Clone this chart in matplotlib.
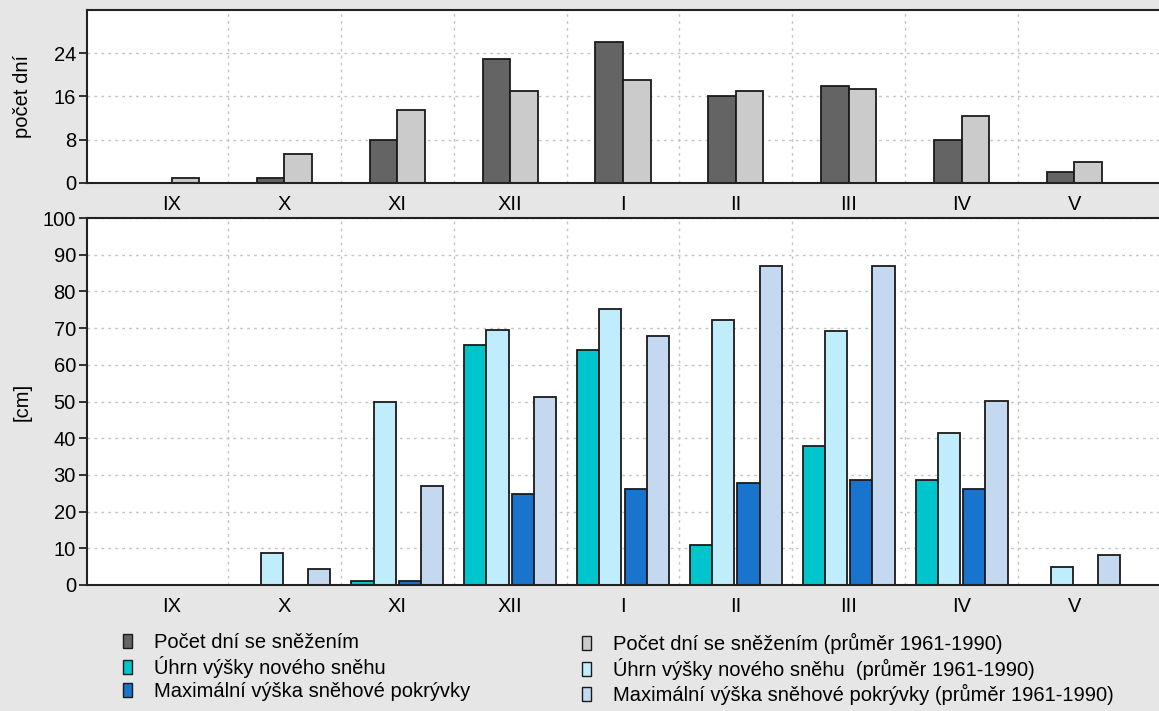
import numpy as np
import matplotlib.pyplot as plt
from matplotlib.patches import Patch

plt.rcParams['font.family'] = ['Liberation Sans', 'DejaVu Sans']

months = ['IX', 'X', 'XI', 'XII', 'I', 'II', 'III', 'IV', 'V']

# pocet dni
days_snow = [0, 1, 8, 23, 26, 16, 18, 8, 2]
days_snow_avg = [1, 5.3, 13.5, 17, 19.1, 17.1, 17.3, 12.4, 3.8]

# [cm]
new_snow = [0, 0, 1, 65.3, 64, 10.9, 37.8, 28.7, 0]
new_snow_avg = [0, 8.8, 50, 69.6, 75.3, 72.3, 69.2, 41.4, 4.8]
max_depth = [0, 0, 1, 24.8, 26.1, 27.8, 28.7, 26.1, 0]
max_depth_avg = [0, 4.4, 27, 51.3, 67.9, 87, 87, 50.1, 8.3]

c_dark = '#646464'
c_grey = '#cbcbcb'
c_teal = '#00c5cd'
c_cyan = '#bfedfc'
c_blue = '#1874cd'
c_steel = '#c4d8ef'
bg = '#e6e6e6'
fs = 14.5

x = np.arange(len(months))

fig = plt.figure(figsize=(11.59, 7.11), dpi=100, facecolor=bg)
ax1 = fig.add_axes([87/1159, 1-183/711, 1-87/1159, 173/711])
ax2 = fig.add_axes([87/1159, 1-585/711, 1-87/1159, 367/711])


def style(ax):
    ax.set_xlim(-0.75, 8.75)
    ax.set_xticks(x)
    ax.set_xticklabels(months, fontsize=fs)
    ax.tick_params(axis='x', length=0, pad=9)
    ax.tick_params(axis='y', labelsize=fs, length=6, width=1.3, pad=2, color='#222222')
    ax.set_xticks(x[:-1] + 0.5, minor=True)
    ax.tick_params(axis='x', which='minor', length=0)
    ax.grid(True, which='minor', axis='x', color='#c4c4c4', linestyle=(0, (2, 3)), lw=1)
    ax.grid(True, which='major', axis='y', color='#c4c4c4', linestyle=(0, (2, 3)), lw=1)
    ax.set_axisbelow(True)
    ax.spines['right'].set_visible(False)
    for s in ['left', 'top', 'bottom']:
        ax.spines[s].set_linewidth(1.5)
        ax.spines[s].set_color('#222222')


w1 = 0.245
ax1.bar(x - w1/2, days_snow, w1, color=c_dark, edgecolor='#1a1a1a', lw=1.3)
ax1.bar(x + w1/2, days_snow_avg, w1, color=c_grey, edgecolor='#1a1a1a', lw=1.3)
ax1.set_ylim(0, 32)
ax1.set_yticks([0, 8, 16, 24])
ax1.set_ylabel('počet dní', fontsize=fs)
style(ax1)

w = 0.197
g = 0.027
ax2.bar(x - g/2 - 1.5*w, new_snow, w, color=c_teal, edgecolor='#1a1a1a', lw=1.3)
ax2.bar(x - g/2 - 0.5*w, new_snow_avg, w, color=c_cyan, edgecolor='#1a1a1a', lw=1.3)
ax2.bar(x + g/2 + 0.5*w, max_depth, w, color=c_blue, edgecolor='#1a1a1a', lw=1.3)
ax2.bar(x + g/2 + 1.5*w, max_depth_avg, w, color=c_steel, edgecolor='#1a1a1a', lw=1.3)
ax2.set_ylim(0, 100)
ax2.set_yticks(np.arange(0, 101, 10))
ax2.set_ylabel('[cm]', fontsize=fs)
style(ax2)
ax1.yaxis.set_label_coords(-55/1072, 0.5)
ax2.yaxis.set_label_coords(-55/1072, 0.5)

left = [Patch(facecolor=c_dark, edgecolor='#1a1a1a', label='Počet dní se sněžením'),
        Patch(facecolor=c_teal, edgecolor='#1a1a1a', label='Úhrn výšky nového sněhu'),
        Patch(facecolor=c_blue, edgecolor='#1a1a1a', label='Maximální výška sněhové pokrývky')]
right = [Patch(facecolor=c_grey, edgecolor='#1a1a1a', label='Počet dní se sněžením (průměr 1961-1990)'),
         Patch(facecolor=c_cyan, edgecolor='#1a1a1a', label='Úhrn výšky nového sněhu  (průměr 1961-1990)'),
         Patch(facecolor=c_steel, edgecolor='#1a1a1a', label='Maximální výška sněhové pokrývky (průměr 1961-1990)')]
for hs, xpos in [(left, 123/1159), (right, 582/1159)]:
    fig.legend(handles=hs, loc='upper left', bbox_to_anchor=(xpos, 1-633/711),
               frameon=False, fontsize=fs, handlelength=0.45, handleheight=0.65,
               handletextpad=1.1, labelspacing=0.2, borderpad=0, borderaxespad=0)

fig.savefig('out.png', dpi=100, facecolor=bg)
